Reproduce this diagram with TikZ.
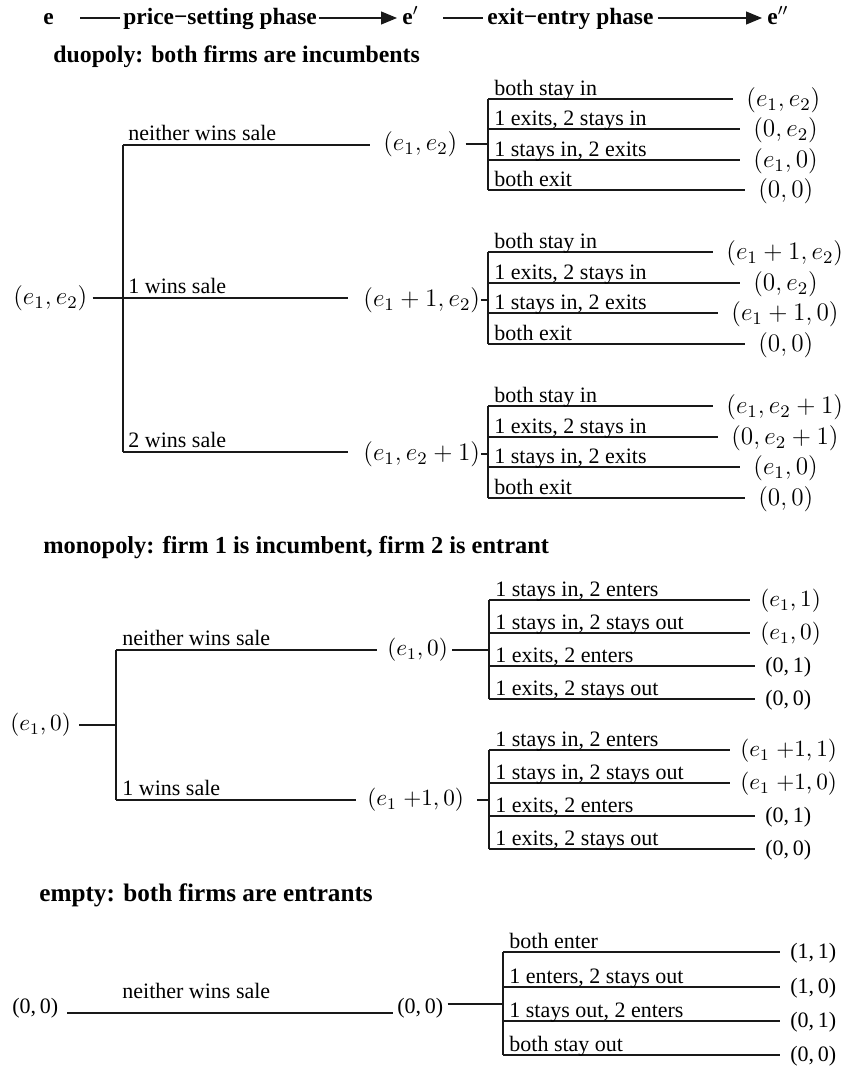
\RequirePackage{fix-cm}
\documentclass[tikz,border=0pt]{standalone}
\usepackage{fontspec}
\setmainfont{Liberation Serif}
\usetikzlibrary{arrows.meta}
\def\lgap{13}
\newcommand\sbr[6]{%
  \coordinate (#1s) at (#2,#3);
  \coordinate (#1e) at (#4,#3);
  \draw[ln] (#1s) -- (#1e);
  \node[txt] (#1t) at ({#2+6},{#3-4}) {#5};
  \node[rlab] (#1l) at ({#4+\lgap},{#3+1}) {#6};
}
\begin{document}
\begin{tikzpicture}[x=0.5pt,y=-0.5pt,
  ln/.style={line width=0.6pt,draw=black!90},
  txt/.style={font=\fontsize{11}{13}\selectfont,inner sep=0pt,anchor=base west},
  hd/.style={font=\bfseries\fontsize{11.7}{14}\selectfont,inner sep=0pt,anchor=base west},
  ttl/.style={font=\bfseries\fontsize{#1}{15}\selectfont,inner sep=0pt,anchor=base west},
  mlab/.style={inner sep=0pt,anchor=west},
  dm/.style={mlab,font=\fontsize{12.6}{15}\selectfont},
  mm/.style={mlab,font=\fontsize{11.6}{14}\selectfont},
  tm/.style={mlab,font=\fontsize{11}{13}\selectfont},
  tip/.style={-{Triangle[length=8pt,width=6.5pt]}}
]
\useasboundingbox (0,0) rectangle (846,1066);

% ---------- header ----------
\node[hd] (h0) at (43,24) {e};
\node[hd] (hps) at (123,24) {price−setting phase};
\node[hd] (h1) at (402,24) {e$'$};
\node[hd] (hee) at (487,24) {exit−entry phase};
\node[hd] (h2) at (767,24) {e$''$};
\coordinate (ha) at (80,18);
\coordinate (hb) at (443,18);
\draw[ln,shorten >=1.5pt] (ha) -- (ha -| hps.west);
\draw[ln,tip,shorten <=1pt,shorten >=2.5pt] (hps.east |- ha) -- (h1.west |- ha);
\draw[ln,shorten >=2pt] (hb) -- (hb -| hee.west);
\draw[ln,tip,shorten <=2pt,shorten >=2.5pt] (hee.east |- hb) -- (h2.west |- hb);

% ---------- duopoly ----------
\node[ttl=11.9] (t1) at (53,62) {duopoly: both firms are incumbents};
\begin{scope}[rlab/.style={dm}]
\node[dm] (r) at (13,298) {$(e_1,e_2)$};
\coordinate (ja) at (123,145);
\coordinate (jb) at (123,298);
\coordinate (jc) at (123,452);
\coordinate (ea) at (370,145);
\coordinate (eb) at (348,298);
\coordinate (ec) at (348,452);
\draw[ln,shorten <=2.5pt] (r.east) -- (jb);
\draw[ln] (ja) -- (jc);
\draw[ln] (ja) -- (ea);
\draw[ln] (jb) -- (eb);
\draw[ln] (jc) -- (ec);
\node[txt] (ta) at (128,140) {neither wins sale};
\node[txt] (tb) at (128,293) {1 wins sale};
\node[txt] (tc) at (128,447) {2 wins sale};
\node[dm] (ma) at (383,144) {$(e_1,e_2)$};
\node[dm] (mb) at (363,300) {$(e_1+1,e_2)$};
\node[dm] (mc) at (363,454) {$(e_1,e_2+1)$};

\sbr{a1}{488}{99}{733}{both stay in}{$(e_1,e_2)$}
\sbr{a2}{488}{129}{740}{1 exits, 2 stays in}{$(0,e_2)$}
\sbr{a3}{488}{160}{740}{1 stays in, 2 exits}{$(e_1,0)$}
\sbr{a4}{488}{190}{745}{both exit}{$(0,0)$}
\draw[ln] (a1s) -- (a4s);
\draw[ln,shorten <=4pt] (ma.east) -- (ma.east -| a1s);

\sbr{b1}{488}{252}{713}{both stay in}{$(e_1+1,e_2)$}
\sbr{b2}{488}{283}{740}{1 exits, 2 stays in}{$(0,e_2)$}
\sbr{b3}{488}{313}{718}{1 stays in, 2 exits}{$(e_1+1,0)$}
\sbr{b4}{488}{344}{745}{both exit}{$(0,0)$}
\draw[ln] (b1s) -- (b4s);
\draw[ln,shorten <=0.5pt] (mb.east) -- (mb.east -| b1s);

\sbr{c1}{488}{406}{713}{both stay in}{$(e_1,e_2+1)$}
\sbr{c2}{488}{437}{718}{1 exits, 2 stays in}{$(0,e_2+1)$}
\sbr{c3}{488}{467}{740}{1 stays in, 2 exits}{$(e_1,0)$}
\sbr{c4}{488}{498}{745}{both exit}{$(0,0)$}
\draw[ln] (c1s) -- (c4s);
\draw[ln,shorten <=0.5pt] (mc.east) -- (mc.east -| c1s);
\end{scope}

% ---------- monopoly ----------
\node[ttl=12.2] (t2) at (43,553) {monopoly: firm 1 is incumbent, firm 2 is entrant};
\begin{scope}[rlab/.style={mm}]
\def\lgap{10}
\node[mm] (mr) at (10,725) {$(e_1,0)$};
\coordinate (mj) at (116,725);
\coordinate (mja) at (116,650);
\coordinate (mjb) at (116,800);
\coordinate (mea) at (377,650);
\coordinate (meb) at (356,800);
\draw[ln,shorten <=4pt] (mr.east) -- (mj);
\draw[ln] (mja) -- (mjb);
\draw[ln] (mja) -- (mea);
\draw[ln] (mjb) -- (meb);
\node[txt] (mta) at (122,645) {neither wins sale};
\node[txt] (mtb) at (122,795) {1 wins sale};
\node[mm] (mma) at (387,650) {$(e_1,0)$};
\node[mm] (mmb) at (367,800) {$(e_1\;{+}1,0)$};

\sbr{d1}{489}{600}{750}{1 stays in, 2 enters}{$(e_1,1)$}
\sbr{d2}{489}{633}{750}{1 stays in, 2 stays out}{$(e_1,0)$}
\begin{scope}[rlab/.style={tm}]
\sbr{d3}{489}{666}{755}{1 exits, 2 enters}{(0,\,1)}
\sbr{d4}{489}{699}{755}{1 exits, 2 stays out}{(0,\,0)}
\end{scope}
\draw[ln] (d1s) -- (d4s);
\draw[ln,shorten <=2pt] (mma.east) -- (mma.east -| d1s);

\sbr{f1}{489}{750}{730}{1 stays in, 2 enters}{$(e_1\;{+}1,1)$}
\sbr{f2}{489}{783}{730}{1 stays in, 2 stays out}{$(e_1\;{+}1,0)$}
\begin{scope}[rlab/.style={tm}]
\sbr{f3}{489}{816}{755}{1 exits, 2 enters}{(0,\,1)}
\sbr{f4}{489}{849}{755}{1 exits, 2 stays out}{(0,\,0)}
\end{scope}
\draw[ln] (f1s) -- (f4s);
\draw[ln,shorten <=6.5pt] (mmb.east) -- (mmb.east -| f1s);
\end{scope}

% ---------- empty ----------
\node[ttl=12.6] (t3) at (39,901) {empty: both firms are entrants};
\begin{scope}[rlab/.style={tm}]
\def\lgap{10}
\node[tm] (er) at (12,1008) {(0,\,0)};
\coordinate (eL) at (67,1013);
\coordinate (eR) at (393,1013);
\draw[ln] (eL) -- (eR);
\node[txt] (et) at (122,998) {neither wins sale};
\node[tm] (em) at (397,1008) {(0,\,0)};
\coordinate (emx) at ([xshift=2pt]em.east);
\coordinate (ej) at (503,1004);
\draw[ln] (emx |- ej) -- (ej);

\sbr{g1}{503}{952}{780}{both enter}{(1,\,1)}
\sbr{g2}{503}{987}{780}{1 enters, 2 stays out}{(1,\,0)}
\sbr{g3}{503}{1021}{780}{1 stays out, 2 enters}{(0,\,1)}
\sbr{g4}{503}{1055}{780}{both stay out}{(0,\,0)}
\draw[ln] (g1s) -- (g4s);
\end{scope}
\end{tikzpicture}
\end{document}
